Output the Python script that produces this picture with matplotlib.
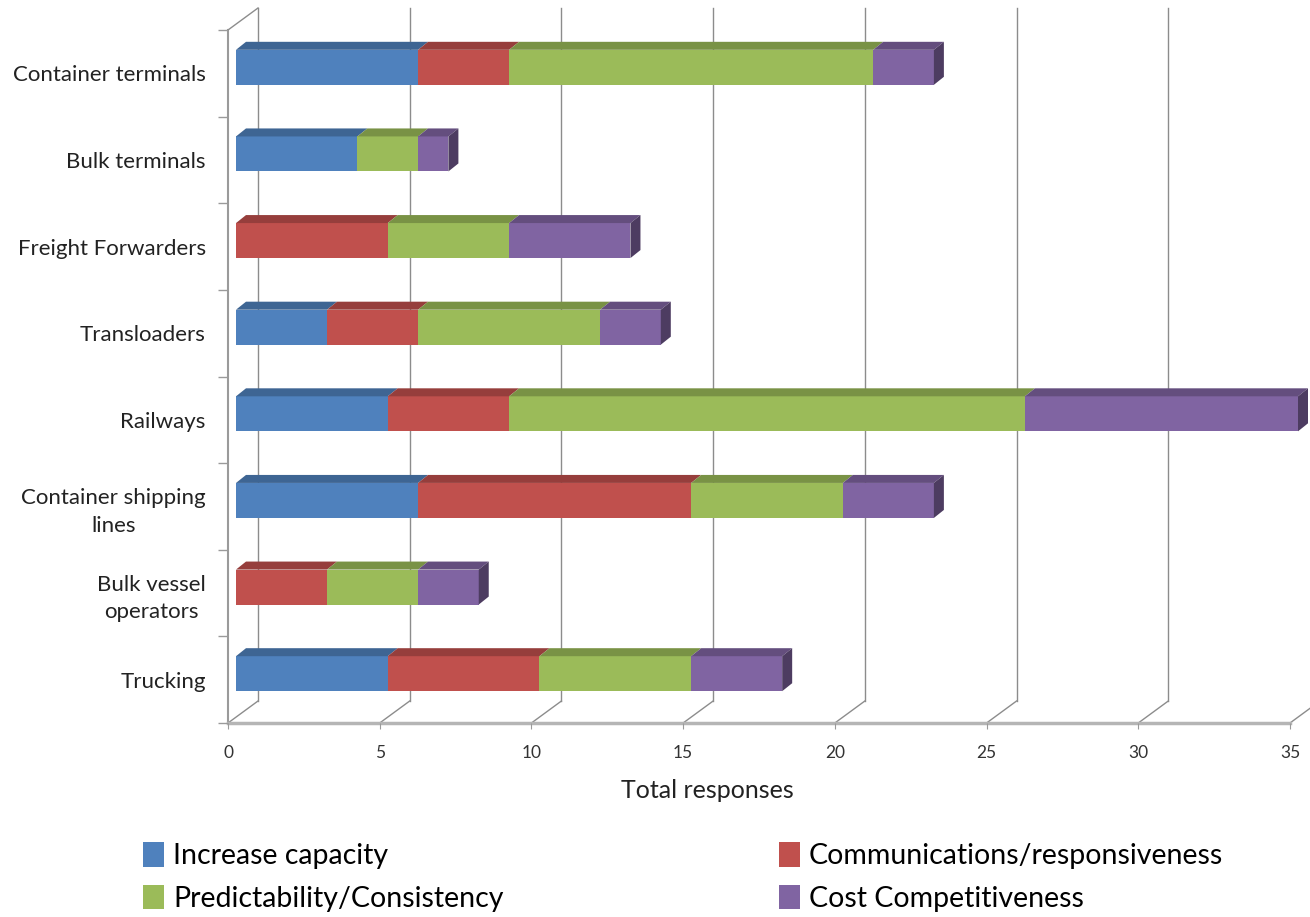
import numpy as np
import matplotlib
matplotlib.use("Agg")
import matplotlib.pyplot as plt
from matplotlib.patches import Polygon, Patch

# survey answers per stakeholder group (bottom to top on the chart)
categories = ["Trucking", "Bulk vessel\noperators", "Container shipping\nlines", "Railways",
              "Transloaders", "Freight Forwarders", "Bulk terminals", "Container terminals"]
increase_capacity = [5, 0, 6, 5, 3, 0, 4, 6]
communications = [5, 3, 9, 4, 3, 5, 0, 3]
predictability = [5, 3, 5, 17, 6, 4, 2, 12]
cost_competitiveness = [3, 2, 3, 9, 2, 4, 1, 2]

series = [
    ("Increase capacity", increase_capacity, "#4F81BD"),
    ("Communications/responsiveness", communications, "#C0504D"),
    ("Predictability/Consistency", predictability, "#9BBB59"),
    ("Cost Competitiveness", cost_competitiveness, "#8064A2"),
]

plt.rcParams["font.family"] = ["Lato", "DejaVu Sans"]

W, H = 1310, 917
fig = plt.figure(figsize=(W / 100, H / 100), dpi=100)
# front plane of the 3-D box
x0_px, x1_px, top_px, bot_px = 228, 1290, 30, 723
ax = fig.add_axes([x0_px / W, 1 - bot_px / H, (x1_px - x0_px) / W, (bot_px - top_px) / H])
xmax = 35
n = len(categories)
ax.set_xlim(0, xmax)
ax.set_ylim(-0.5, n - 0.5)

ux = (x1_px - x0_px) / xmax      # pixels per x unit
uy = (bot_px - top_px) / n       # pixels per category


def off(px, py):
    # pixel shift -> data shift (py positive = upwards)
    return px / ux, py / uy


wall_dx, wall_dy = off(30, 22)     # back wall depth
bar_dx, bar_dy = off(8, 6)         # bar front face behind front plane
dep_dx, dep_dy = off(10, 8)        # bar depth
bar_h = 35 / uy

axis_col = "#9a9a9a"
grid_col = "#8c8c8c"

# back wall gridlines and floor slants
ticks = np.arange(0, xmax + 1, 5)
for t in ticks:
    ax.plot([t + wall_dx, t + wall_dx], [-0.5 + wall_dy, n - 0.5 + wall_dy],
            color=grid_col, lw=1, clip_on=False, zorder=0)
    ax.plot([t, t + wall_dx], [-0.5, -0.5 + wall_dy], color=grid_col, lw=1,
            clip_on=False, zorder=0)
# left wall edges
ax.plot([0, 0], [-0.5, n - 0.5], color=axis_col, lw=1.5, clip_on=False, zorder=0)
ax.plot([0, wall_dx], [n - 0.5, n - 0.5 + wall_dy], color=grid_col, lw=1,
        clip_on=False, zorder=0)
# floor front edge
ax.plot([0, xmax], [-0.5, -0.5], color="#b5b5b5", lw=2.5, clip_on=False, zorder=0)


def shade(c, f):
    rgb = np.array(matplotlib.colors.to_rgb(c))
    return tuple(rgb * f)


y = np.arange(n)
left = np.zeros(n)
last_right = np.zeros(n)
last_color = [None] * n
for name, vals, col in series:
    vals = np.array(vals, dtype=float)
    for i in range(n):
        if vals[i] <= 0:
            continue
        l = left[i] + bar_dx
        r = l + vals[i]
        yb = y[i] + bar_dy - bar_h / 2
        yt = yb + bar_h
        ax.barh(y[i] + bar_dy, vals[i], height=bar_h, left=l, color=col,
                edgecolor="none", zorder=3, clip_on=False)
        ax.add_patch(Polygon([(l, yt), (r, yt), (r + dep_dx, yt + dep_dy),
                              (l + dep_dx, yt + dep_dy)], closed=True,
                             facecolor=shade(col, 0.78), edgecolor="none",
                             zorder=3, clip_on=False))
        last_right[i] = r
        last_color[i] = col
    left += vals

# visible right-hand end faces
for i in range(n):
    r = last_right[i]
    yb = y[i] + bar_dy - bar_h / 2
    yt = yb + bar_h
    ax.add_patch(Polygon([(r, yb), (r, yt), (r + dep_dx, yt + dep_dy),
                          (r + dep_dx, yb + dep_dy)], closed=True,
                         facecolor=shade(last_color[i], 0.6), edgecolor="none",
                         zorder=3, clip_on=False))

for s in ax.spines.values():
    s.set_visible(False)

ax.set_xticks(ticks)
ax.set_xticklabels([str(int(t)) for t in ticks], fontsize=12.5, color="#333333")
ax.tick_params(axis="x", length=4, color=axis_col, pad=12)

ax.set_yticks(y)
ax.set_yticklabels(categories, fontsize=16, color="#222222", ha="right",
                   multialignment="center", linespacing=1.45)
ax.set_yticks(np.arange(-0.5, n, 1), minor=True)
ax.tick_params(axis="y", which="major", length=0, pad=16)
ax.tick_params(axis="y", which="minor", length=7, color=axis_col, width=1)

ax.set_xlabel("Total responses", fontsize=18, color="#222222")
ax.xaxis.set_label_coords((707 - x0_px) / (x1_px - x0_px), -(790 - bot_px) / (bot_px - top_px))
ax.xaxis.label.set_va("center")

handles = [Patch(facecolor=c, edgecolor="none") for _, _, c in series]
labels = [nm for nm, _, _ in series]
leg_kw = dict(loc="upper left", frameon=False, fontsize=20.5, handlelength=0.75,
              handleheight=0.95, handletextpad=0.3, labelspacing=0.55, borderpad=0,
              borderaxespad=0)
fig.legend([handles[0], handles[2]], [labels[0], labels[2]],
           bbox_to_anchor=(143 / W, 1 - 842 / H), **leg_kw)
fig.legend([handles[1], handles[3]], [labels[1], labels[3]],
           bbox_to_anchor=(779 / W, 1 - 842 / H), **leg_kw)

fig.savefig("out.png", dpi=100)
